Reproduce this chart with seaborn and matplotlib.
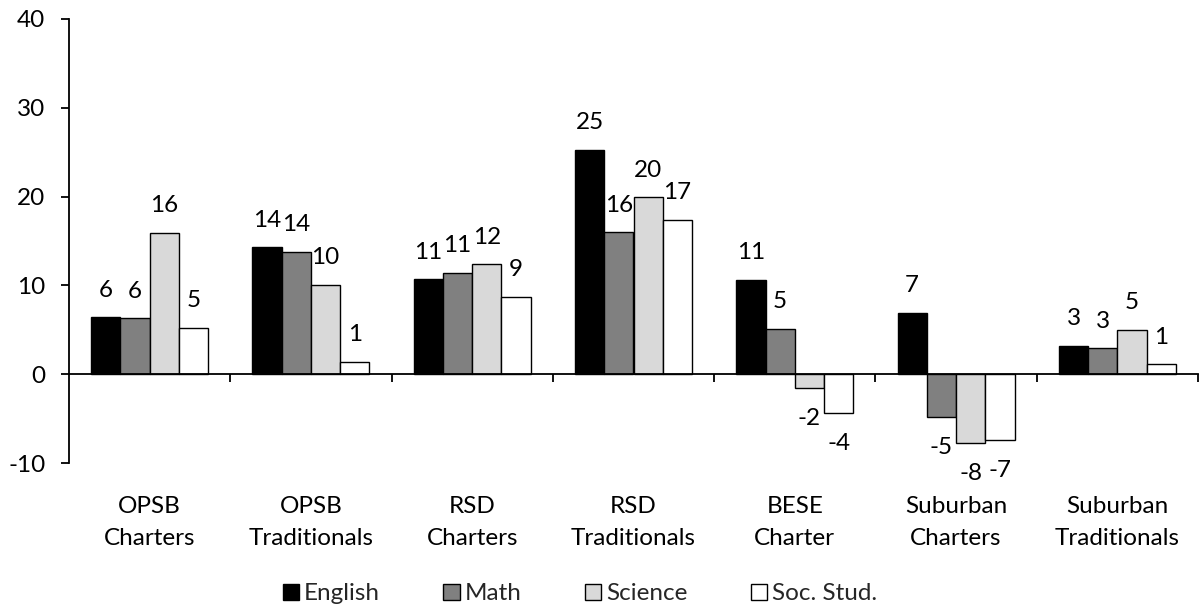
import matplotlib
matplotlib.use("Agg")
import matplotlib.pyplot as plt
from matplotlib.ticker import FixedLocator
import pandas as pd
import seaborn as sns

# School groups along the x axis
categories = ["OPSB\nCharters", "OPSB\nTraditionals", "RSD\nCharters", "RSD\nTraditionals",
              "BESE\nCharter", "Suburban\nCharters", "Suburban\nTraditionals"]

# Point change per subject
subjects = ["English", "Math", "Science", "Soc. Stud."]
english = [6.4, 14.3, 10.7, 25.3, 10.6, 6.9, 3.2]
math_vals = [6.3, 13.8, 11.4, 16.0, 5.1, -4.8, 2.9]
science = [15.9, 10.1, 12.4, 19.9, -1.6, -7.7, 5.0]
soc_stud = [5.2, 1.4, 8.7, 17.4, -4.4, -7.4, 1.1]

y_ticks = [-10, 0, 10, 20, 30, 40]

series = [english, math_vals, science, soc_stud]
df = pd.DataFrame(
    [(c, s, v) for s, vals in zip(subjects, series) for c, v in zip(categories, vals)],
    columns=["group", "subject", "value"],
)

sns.set_theme(style="white")
plt.rcParams["font.family"] = ["Lato", "DejaVu Sans"]
plt.rcParams["axes.unicode_minus"] = False
FS = 17.5

fig = plt.figure(figsize=(12.02, 6.09), dpi=100)
ax = fig.add_axes([69 / 1202, 1 - 463 / 609, (1198 - 69) / 1202, (463 - 19) / 609])

palette = ["#000000", "#808080", "#d9d9d9", "#ffffff"]
sns.barplot(data=df, x="group", y="value", hue="subject", order=categories,
            hue_order=subjects, palette=palette, edgecolor="black", linewidth=1.0,
            width=0.725, gap=0, saturation=1, legend=False, errorbar=None, ax=ax)

ax.set_xlim(-0.5, len(categories) - 0.5)
ax.set_ylim(-10, 40)
ax.set_yticks(y_ticks)
ax.set_xlabel("")
ax.set_ylabel("")

# Axes styling
for side in ("top", "right"):
    ax.spines[side].set_visible(False)
ax.spines["bottom"].set_position(("data", 0))
for side in ("left", "bottom"):
    ax.spines[side].set_color("black")
    ax.spines[side].set_linewidth(1.3)

ax.tick_params(axis="y", which="major", direction="out", length=6, width=1.3,
               color="black", labelsize=FS, labelcolor="black", pad=11, left=True)
ax.xaxis.set_minor_locator(FixedLocator([i + 0.5 for i in range(len(categories))]))
ax.tick_params(axis="x", which="minor", direction="out", length=6, width=1.3,
               color="black", bottom=True)
ax.tick_params(axis="x", which="major", length=0, labelsize=FS, labelcolor="black", pad=88)
for lbl in ax.get_xticklabels():
    lbl.set_linespacing(1.6)

# Value labels above positive bars and below negative bars
for container in ax.containers:
    for bar in container:
        h = bar.get_height()
        x = bar.get_x() + bar.get_width() / 2
        off = 19.5 if h >= 0 else -22
        ax.annotate(f"{h:.0f}", (x, h), xytext=(0, off), textcoords="offset points",
                    ha="center", va="center", fontsize=FS, color="black")

ax.legend(ax.containers, subjects, loc="center",
          bbox_to_anchor=(580 / 1202, 1 - 594 / 609), bbox_transform=fig.transFigure,
          ncol=4, frameon=False, fontsize=FS, handlelength=0.68, handleheight=0.68,
          handletextpad=0.2, columnspacing=2.6, borderaxespad=0)

fig.savefig("out.png", dpi=100, facecolor="white")
